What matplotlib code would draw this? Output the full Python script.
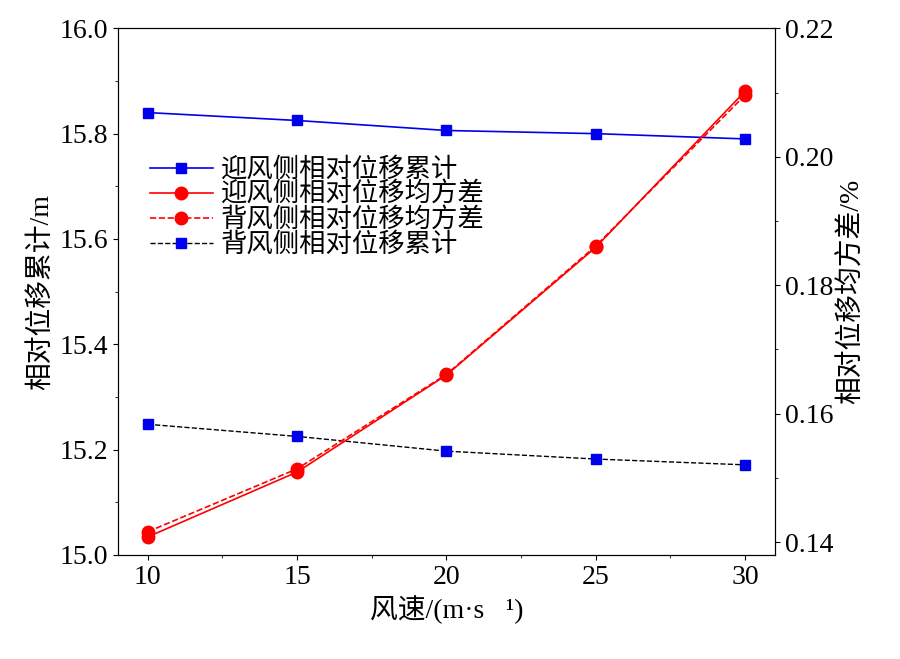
import matplotlib
matplotlib.use("Agg")
import matplotlib.pyplot as plt
from matplotlib.ticker import FormatStrFormatter

plt.rcParams['font.family'] = ['Liberation Serif', 'Noto Sans CJK SC']
plt.rcParams['font.size'] = 20

speed = [10, 15, 20, 25, 30]
windward_cum = [15.84, 15.825, 15.806, 15.800, 15.790]
leeward_cum = [15.248, 15.225, 15.197, 15.182, 15.171]
windward_std = [0.1408, 0.1509, 0.1660, 0.1859, 0.2102]
leeward_std = [0.1416, 0.1514, 0.1661, 0.1861, 0.2096]

fig, ax = plt.subplots(figsize=(9, 6.59), dpi=100)
ax2 = ax.twinx()

l1, = ax.plot(speed, windward_cum, color="#0000ee", marker="s", ms=7, lw=1.2,
              label="迎风侧相对位移累计")
l2, = ax2.plot(speed, windward_std, color="#ff0000", marker="o", ms=9, lw=1.2,
               label="迎风侧相对位移均方差")
l3, = ax2.plot(speed, leeward_std, color="#ff0000", marker="o", ms=9, lw=1.2,
               ls="--", label="背风侧相对位移均方差")
l4, = ax.plot(speed, leeward_cum, color="black", marker="s", ms=7, lw=1.0,
              ls="--", mfc="#0000ee", mec="#0000ee", label="背风侧相对位移累计")

ax.set_xlim(9, 31)
ax.set_ylim(15.0, 16.0)
ax2.set_ylim(0.138, 0.22)
ax.set_xticks(speed)
ax.set_yticks([15.0, 15.2, 15.4, 15.6, 15.8, 16.0])
ax.yaxis.set_major_formatter(FormatStrFormatter("%.1f"))
ax2.set_yticks([0.14, 0.16, 0.18, 0.20, 0.22])
ax2.yaxis.set_major_formatter(FormatStrFormatter("%.2f"))
ax.set_yticks([15.1, 15.3, 15.5, 15.7, 15.9], minor=True)
ax2.set_yticks([0.15, 0.17, 0.19, 0.21], minor=True)
ax.set_xticks([12.5, 17.5, 22.5, 27.5], minor=True)

ax.set_xlabel("风速/(m·s⁻¹)")
ax.set_ylabel("相对位移累计/m")
ax2.set_ylabel("相对位移均方差/%")

ax.legend(handles=[l1, l2, l3, l4], loc="upper left", bbox_to_anchor=(0.02, 0.79),
          frameon=False, fontsize=19, handlelength=2.4, handletextpad=0.3,
          labelspacing=0.0, borderpad=0.2)

fig.subplots_adjust(left=0.131, right=0.861, top=0.957, bottom=0.158)
fig.savefig("out.png", dpi=100)
